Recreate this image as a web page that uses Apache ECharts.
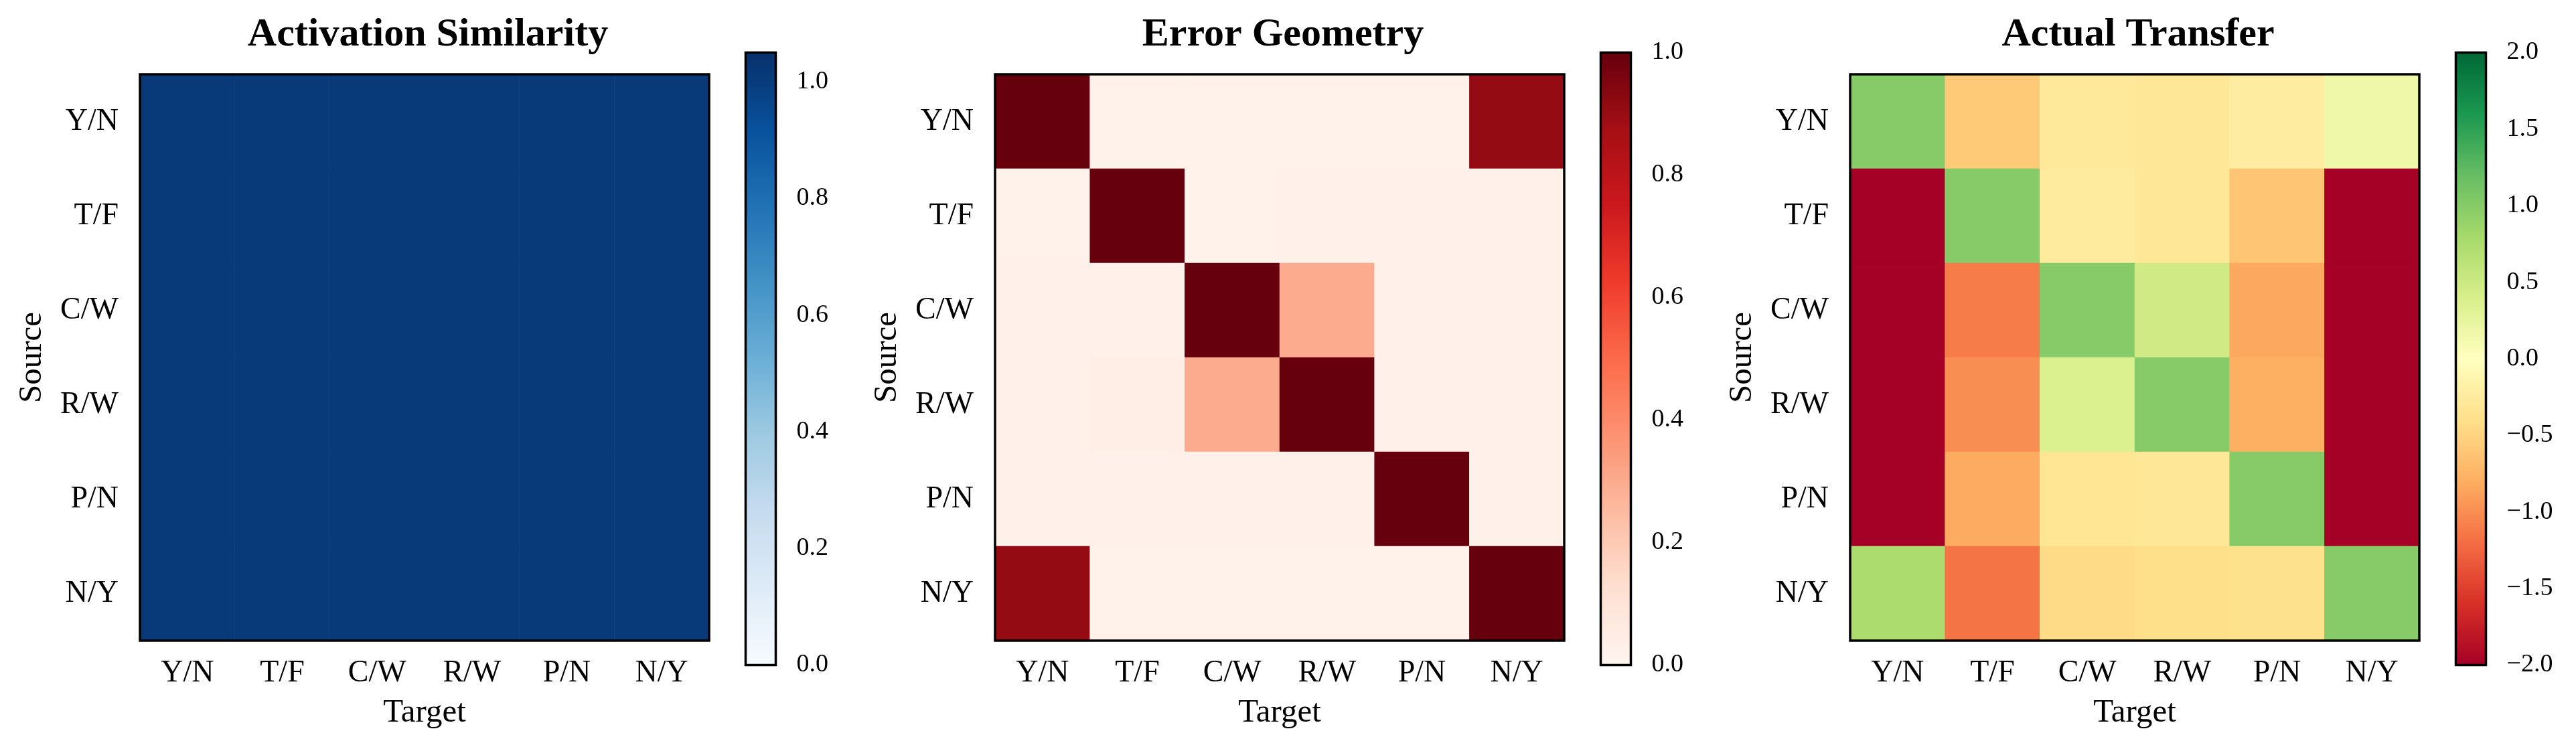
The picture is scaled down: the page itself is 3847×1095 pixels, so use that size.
<!DOCTYPE html>
<html>
<head>
<meta charset="utf-8">
<script src="https://cdn.jsdelivr.net/npm/echarts@6/dist/echarts.min.js"></script>
<style>
  html, body { margin: 0; padding: 0; background: #fff; }
  #chart { width: 3847px; height: 1095px; }
</style>
</head>
<body>
<div id="chart"></div>
<script>
// task labels (source rows / target columns)
const tasks = ['Y/N', 'T/F', 'C/W', 'R/W', 'P/N', 'N/Y'];

// rows = source, columns = target
const activationSimilarity = [
  [1.012, 1.011, 1.012, 1.012, 1.012, 1.012],
  [1.010, 1.010, 1.012, 1.012, 1.012, 1.012],
  [1.011, 1.011, 1.012, 1.012, 1.012, 1.012],
  [1.012, 1.012, 1.012, 1.011, 1.012, 1.012],
  [1.012, 1.012, 1.012, 1.012, 1.011, 1.012],
  [1.012, 1.012, 1.012, 1.012, 1.012, 1.011]
];
const errorGeometry = [
  [1.00, 0.02, 0.02, 0.02, 0.02, 0.91],
  [0.02, 1.00, 0.02, 0.03, 0.03, 0.03],
  [0.03, 0.03, 1.00, 0.30, 0.03, 0.03],
  [0.03, 0.04, 0.30, 1.00, 0.03, 0.03],
  [0.03, 0.03, 0.03, 0.03, 1.00, 0.03],
  [0.91, 0.02, 0.02, 0.02, 0.02, 1.00]
];
const actualTransfer = [
  [ 1.00, -0.58, -0.28, -0.31, -0.23,  0.17],
  [-2.00,  1.00, -0.26, -0.30, -0.62, -2.00],
  [-2.00, -1.11,  1.00,  0.47, -0.84, -2.00],
  [-2.00, -1.00,  0.38,  1.00, -0.79, -2.00],
  [-2.00, -0.82, -0.32, -0.30,  1.00, -2.00],
  [ 0.75, -1.16, -0.44, -0.40, -0.39,  1.00]
];

// colorbar ranges and ticks
const simRange = [0, 1.05];
const simTicks = [0, 0.2, 0.4, 0.6, 0.8, 1.0];
const errRange = [0, 1];
const errTicks = [0, 0.2, 0.4, 0.6, 0.8, 1.0];
const transRange = [-2, 2];
const transTicks = [-2, -1.5, -1, -0.5, 0, 0.5, 1, 1.5, 2];

// matplotlib colormaps
const Blues = ['#f7fbff', '#deebf7', '#c6dbef', '#9ecae1', '#6baed6', '#4292c6', '#2171b5', '#08519c', '#08306b'];
const Reds = ['#fff5f0', '#fee0d2', '#fcbba1', '#fc9272', '#fb6a4a', '#ef3b2c', '#cb181d', '#a50f15', '#67000d'];
const RdYlGn = ['#a50026', '#d73027', '#f46d43', '#fdae61', '#fee08b', '#ffffbf', '#d9ef8b', '#a6d96a', '#66bd63', '#1a9850', '#006837'];

const FONT = 'Liberation Serif';
const panels = [
  { title: 'Activation Similarity', data: activationSimilarity, range: simRange, ticks: simTicks, cmap: Blues },
  { title: 'Error Geometry', data: errorGeometry, range: errRange, ticks: errTicks, cmap: Reds },
  { title: 'Actual Transfer', data: actualTransfer, range: transRange, ticks: transTicks, cmap: RdYlGn }
];

const STEP = 1277; // distance between panels
const HM = { left: 209, top: 111, size: 850 };
const CB = { left: 1113.5, top: 78.5, width: 45, height: 915 };

function toCells(m) {
  const out = [];
  m.forEach((row, r) => row.forEach((v, c) => out.push([c, r, v])));
  return out;
}
function fmt(v) {
  return (v < 0 ? '\u2212' : '') + Math.abs(v).toFixed(1);
}

const chart = echarts.init(document.getElementById('chart'));
const option = {
  backgroundColor: '#fff',
  animation: false,
  title: [], grid: [], xAxis: [], yAxis: [], visualMap: [], series: []
};

panels.forEach((p, i) => {
  const off = i * STEP;
  option.title.push({
    text: p.title,
    left: off + HM.left + HM.size / 2,
    top: 17,
    textAlign: 'center',
    textStyle: { fontFamily: FONT, fontWeight: 'bold', fontSize: 60, color: '#000' }
  });
  option.grid.push({
    left: off + HM.left, top: HM.top, width: HM.size, height: HM.size,
    show: true, borderColor: '#000', borderWidth: 3.5, z: 10, backgroundColor: 'transparent'
  });
  option.xAxis.push({
    type: 'category', gridIndex: i, data: tasks,
    name: 'Target', nameLocation: 'middle', nameGap: 84,
    nameTextStyle: { fontFamily: FONT, fontSize: 49, color: '#000' },
    axisLine: { show: false },
    axisTick: { alignWithLabel: true, length: 14, lineStyle: { color: '#000', width: 3 } },
    axisLabel: { fontFamily: FONT, fontSize: 46, color: '#000', margin: 26 },
    splitLine: { show: false }
  });
  option.yAxis.push({
    type: 'category', gridIndex: i, data: tasks, inverse: true,
    name: 'Source', nameLocation: 'middle', nameGap: 136,
    nameTextStyle: { fontFamily: FONT, fontSize: 49, color: '#000' },
    axisLine: { show: false },
    axisTick: { alignWithLabel: true, length: 14, lineStyle: { color: '#000', width: 3 } },
    axisLabel: { fontFamily: FONT, fontSize: 46, color: '#000', margin: 32 },
    splitLine: { show: false }
  });
  option.visualMap.push({
    type: 'continuous', show: false, seriesIndex: i,
    min: p.range[0], max: p.range[1], inRange: { color: p.cmap }
  });
  option.series.push({
    type: 'heatmap', xAxisIndex: i, yAxisIndex: i, z: 1,
    data: toCells(p.data), emphasis: { disabled: true }, silent: true
  });
});

// colorbars
panels.forEach((p, i) => {
  const off = i * STEP;
  const gi = 3 + i;
  const stops = p.cmap.map((c, k) => ({ offset: k / (p.cmap.length - 1), color: c }));
  option.grid.push({
    left: off + CB.left, top: CB.top, width: CB.width, height: CB.height,
    show: true, borderColor: '#000', borderWidth: 3.5, z: 10, backgroundColor: 'transparent'
  });
  option.xAxis.push({ type: 'value', gridIndex: gi, min: 0, max: 1, show: false });
  option.yAxis.push({
    type: 'value', gridIndex: gi, position: 'right',
    min: p.range[0], max: p.range[1],
    axisLine: { show: false },
    splitLine: { show: false },
    axisTick: { show: true, length: 14, customValues: p.ticks, lineStyle: { color: '#000', width: 3 } },
    axisLabel: { fontFamily: FONT, fontSize: 38, color: '#000', margin: 31, customValues: p.ticks, formatter: fmt }
  });
  option.series.push({
    type: 'custom', xAxisIndex: gi, yAxisIndex: gi, silent: true, z: 1,
    data: [[0, p.range[0], p.range[1]]],
    renderItem: function (params, api) {
      const a = api.coord([0, api.value(2)]);
      const b = api.coord([1, api.value(1)]);
      return {
        type: 'rect',
        shape: { x: a[0], y: a[1], width: b[0] - a[0], height: b[1] - a[1] },
        style: { fill: new echarts.graphic.LinearGradient(0, 1, 0, 0, stops) }
      };
    }
  });
});

chart.setOption(option);
</script>
</body>
</html>
